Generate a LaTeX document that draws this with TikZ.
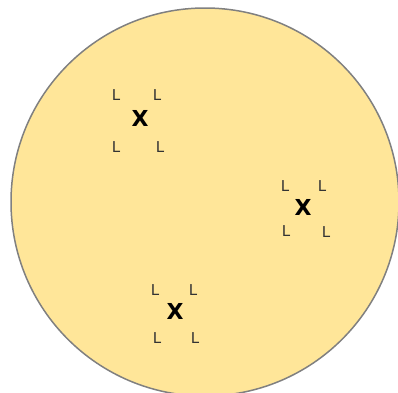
\documentclass[tikz,border=0pt]{standalone}
\usepackage{fontspec}
\setmainfont{Liberation Sans}
\newfontfamily\crossfont{DejaVu Sans}
\definecolor{fillyellow}{RGB}{255,230,153}
\definecolor{rimgray}{RGB}{128,128,128}

\begin{document}
\begin{tikzpicture}[
        x=1pt, y=-1pt,
        cross/.style={font=\crossfont\bfseries\fontsize{22}{22}\selectfont, inner sep=0pt},
        lmark/.style={font=\crossfont\fontsize{15}{15}\selectfont, text=black!80, inner sep=0pt}
    ]
        \useasboundingbox (0,0) rectangle (398,392);
        % big circle
        \draw[rimgray, line width=1.5pt, fill=fillyellow] (205,202) circle (194);

        % Cluster 1: upper left
        \node[cross] (x1) at (140,118) {X};
        \node[lmark] (l1a) at (116,95) {L};
        \node[lmark] (l1b) at (157,95) {L};
        \node[lmark] (l1c) at (116,147) {L};
        \node[lmark] (l1d) at (160,147) {L};

        % Cluster 2: right
        \node[cross] (x2) at (303,207) {X};
        \node[lmark] (l2a) at (285,186) {L};
        \node[lmark] (l2b) at (322,186) {L};
        \node[lmark] (l2c) at (286,231) {L};
        \node[lmark] (l2d) at (326,232) {L};

        % Cluster 3: bottom
        \node[cross] (x3) at (175,311) {X};
        \node[lmark] (l3a) at (155,290) {L};
        \node[lmark] (l3b) at (193,290) {L};
        \node[lmark] (l3c) at (157,338) {L};
        \node[lmark] (l3d) at (195,338) {L};

    \end{tikzpicture}
\end{document}
